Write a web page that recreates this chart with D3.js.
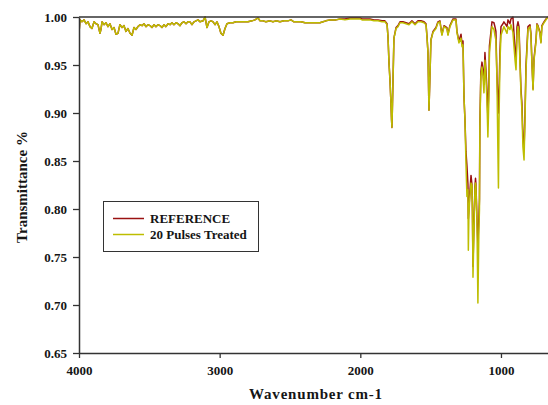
<!DOCTYPE html>
<html><head><meta charset="utf-8">
<script src="https://cdn.jsdelivr.net/npm/d3@7"></script>
<style>
body{margin:0;background:#fff}
svg{display:block}
text{font-family:"Liberation Serif","Times New Roman",serif;font-weight:bold;fill:#151515}
</style>
</head><body><svg id="c" width="548" height="405"></svg>
<script>
const wavenumbers = [
4000,3993,3979,3964,3950,3936,3922,3908,3893,3879,
3865,3851,3844,3836,3822,3808,3794,3780,3765,3751,
3737,3723,3709,3694,3680,3666,3652,3637,3623,3609,
3595,3581,3566,3552,3538,3524,3509,3495,3481,3467,
3453,3438,3424,3410,3396,3382,3367,3353,3339,3325,
3310,3296,3282,3268,3254,3239,3225,3211,3197,3182,
3168,3154,3140,3118,3104,3090,3076,3062,3047,3033,
3019,3005,2991,2976,2962,2948,2927,2905,2884,2855,
2827,2799,2770,2749,2727,2713,2692,2671,2642,2621,
2600,2571,2543,2514,2493,2472,2443,2422,2393,2358,
2322,2287,2265,2244,2216,2194,2173,2145,2109,2073,
2038,2002,
1988,1960,1932,1903,1874,1846,1825,1810,1803,1796,
1789,1782,1778,1775,1768,1761,1746,1732,1718,1697,
1675,1654,1633,1611,1590,1569,1547,1533,1526,1519,
1512,1505,1498,1483,1462,1448,1434,1420,1405,1384,
1377,1363,1341,1320,1313,1299,1284,1277,1270,1263,
1256,1249,1242,1235,1232,1228,1221,1213,1206,1203,
1199,1192,1185,1181,1178,1171,1164,1157,1153,1150,
1143,1135,1128,1121,1114,1107,1100,1093,1086,1082,
1071,1064,1050,1043,1036,1029,1022,1018,1014,1007,
1000,986,979,957,950,936,929,915,900,893,
886,879,872,858,851,844,836,829,822,808,
794,787,780,772,765,751,744,737,723,716,
709,694,680,666
];
const treated = [
.983,.997,.995,.997,.993,.995,.990,.988,.995,.993,
.992,.983,.987,.995,.992,.994,.990,.993,.987,.989,
.982,.983,.992,.989,.991,.985,.988,.983,.981,.989,
.987,.990,.992,.991,.993,.990,.992,.991,.989,.992,
.990,.992,.991,.989,.992,.990,.993,.992,.994,.992,
.994,.993,.991,.994,.995,.993,.995,.995,.992,.995,
.996,.997,.995,.996,1.000,.989,.995,.996,.995,.992,
.995,.990,.983,.981,.988,.993,.994,.994,.995,.995,
.995,.995,.996,.997,.999,.996,.996,.995,.996,.995,
.996,.995,.996,.996,.997,.995,.995,.995,.994,.994,
.994,.994,.995,.996,.997,.997,.997,.998,.997,.998,
.998,.998,
.997,.997,.997,.996,.996,.995,.995,.992,.979,.952,
.934,.910,.893,.885,.931,.978,.988,.990,.994,.994,
.993,.992,.995,.992,.995,.995,.994,.992,.979,.963,
.903,.938,.976,.984,.988,.994,.995,.981,.990,.988,
.981,.990,.997,.997,.984,.973,.978,.969,.971,.917,
.893,.848,.813,.820,.757,.794,.813,.827,.825,.799,
.729,.778,.820,.827,.823,.789,.702,.778,.799,.885,
.938,.948,.938,.921,.955,.938,.914,.875,.914,.963,
.979,.990,.987,.981,.976,.938,.862,.822,.893,.955,
.981,.987,.990,.983,.990,.987,.992,.984,.955,.945,
.981,.990,.984,.921,.903,.865,.851,.895,.945,.987,
.990,.981,.952,.924,.955,.974,.992,.990,.983,.973,
.990,.994,.997,1.000
];
const reference = [
.983,.997,.995,.997,.993,.995,.990,.988,.995,.993,
.992,.983,.987,.995,.992,.994,.990,.993,.987,.989,
.982,.983,.992,.989,.991,.985,.988,.983,.981,.989,
.987,.990,.992,.991,.993,.990,.992,.991,.989,.992,
.990,.992,.991,.989,.992,.990,.993,.992,.994,.992,
.994,.993,.991,.994,.995,.993,.995,.995,.992,.995,
.996,.997,.995,.996,1.000,.989,.995,.996,.995,.992,
.995,.990,.983,.981,.988,.993,.994,.994,.995,.995,
.995,.995,.996,.997,.999,.996,.996,.995,.996,.995,
.996,.995,.996,.996,.997,.995,.995,.995,.994,.994,
.994,.994,.995,.996,.997,.997,.997,.998,.998,.999,
.999,.999,
.998,.998,.998,.997,.997,.996,.996,.993,.979,.952,
.934,.910,.893,.885,.931,.978,.989,.991,.995,.995,
.994,.993,.996,.993,.996,.996,.995,.993,.980,.963,
.903,.938,.976,.985,.989,.995,.996,.982,.991,.989,
.982,.991,.998,.998,.985,.975,.982,.972,.975,.917,
.893,.860,.845,.826,.790,.800,.818,.835,.825,.800,
.740,.785,.823,.832,.826,.792,.763,.790,.810,.889,
.943,.953,.945,.930,.963,.945,.925,.895,.930,.970,
.985,.995,.994,.990,.985,.940,.915,.900,.920,.965,
.990,.993,.995,.990,.997,.993,.998,1.000,.965,.955,
.990,.995,.990,.925,.910,.875,.862,.900,.950,.990,
.992,.983,.953,.925,.957,.976,.993,.991,.984,.974,
.991,.995,.998,1.000
];
const yTicks = [0.65,0.70,0.75,0.80,0.85,0.90,0.95,1.00];
const xTicks = [4000,3000,2000,1000];
const seriesNames = ["REFERENCE","20 Pulses Treated"];
const seriesColors = ["#9a1212","#bdbd00"];

const svg = d3.select("#c");
const x = d3.scaleLinear().domain([4000,650]).range([79,550.2]);
const y = d3.scaleLinear().domain([0.65,1.0]).range([353,17]);

svg.append("defs").append("clipPath").attr("id","clip")
  .append("rect").attr("x",79).attr("y",0).attr("width",480).attr("height",354);

const refData = d3.zip(wavenumbers, reference);
const trData = d3.zip(wavenumbers, treated);
const line = d3.line().x(d=>x(d[0])).y(d=>y(d[1]));

const g = svg.append("g").attr("clip-path","url(#clip)");
g.append("path").datum(refData).attr("d",line)
  .attr("fill","none").attr("stroke",seriesColors[0]).attr("stroke-width",1.5).attr("stroke-linejoin","round");
g.append("path").datum(trData).attr("d",line)
  .attr("fill","none").attr("stroke",seriesColors[1]).attr("stroke-width",1.5).attr("stroke-linejoin","round");

// top border
svg.append("line").attr("x1",x(4000)).attr("x2",548).attr("y1",y(1.0)).attr("y2",y(1.0))
  .attr("stroke","#333").attr("stroke-width",1.5);

const yAxis = svg.append("g").attr("transform",`translate(${x(4000)},0)`)
  .call(d3.axisLeft(y).tickValues(yTicks).tickFormat(d3.format(".2f")).tickSize(6).tickSizeOuter(0).tickPadding(6));
const xAxis = svg.append("g").attr("transform",`translate(0,${y(0.65)})`)
  .call(d3.axisBottom(x).tickValues(xTicks).tickFormat(d3.format("d")).tickSize(5).tickSizeOuter(0).tickPadding(8));
[yAxis,xAxis].forEach(a=>{
  a.select(".domain").attr("stroke","#333").attr("stroke-width",1.5);
  a.selectAll(".tick line").attr("stroke","#333").attr("stroke-width",1.3);
  a.selectAll("text").attr("font-size",13).attr("font-family",null).attr("fill","#151515");
});

svg.append("text").attr("x",316).attr("y",399).attr("text-anchor","middle")
  .attr("font-size",15).attr("letter-spacing",0.8).text("Wavenumber cm-1");
svg.append("text").attr("transform","translate(27,187) rotate(-90)").attr("text-anchor","middle")
  .attr("font-size",15).text("Transmittance %");

// legend
const lg = svg.append("g");
lg.append("rect").attr("x",103.5).attr("y",201.5).attr("width",155).attr("height",50)
  .attr("fill","#fff").attr("stroke","#333").attr("stroke-width",1);
seriesNames.forEach((n,i)=>{
  const yy = 218.5 + i*16;
  lg.append("line").attr("x1",113).attr("x2",144).attr("y1",yy).attr("y2",yy)
    .attr("stroke",seriesColors[i]).attr("stroke-width",1.5);
  lg.append("text").attr("x",150).attr("y",yy+4.5).attr("font-size",13).text(n);
});
</script>
</body></html>
